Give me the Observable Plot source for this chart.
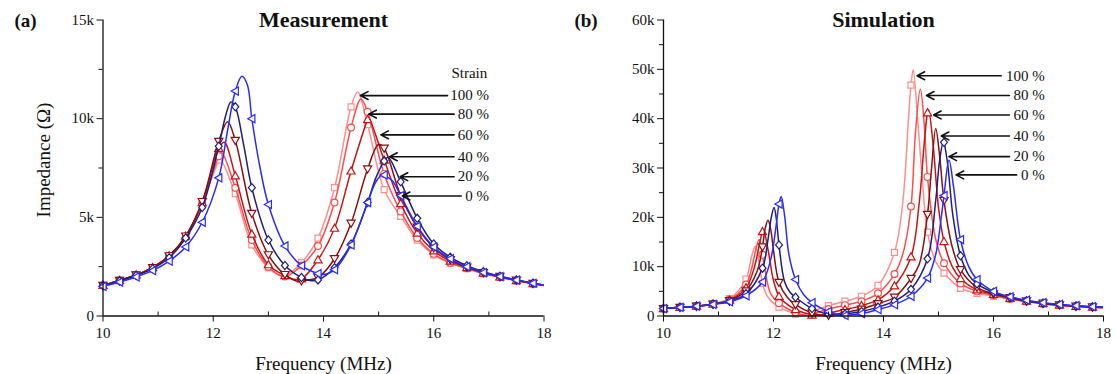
<!DOCTYPE html>
<html><head><meta charset="utf-8">
<script src="https://cdn.jsdelivr.net/npm/d3@7"></script>
<script src="https://cdn.jsdelivr.net/npm/@observablehq/plot@0.6"></script>
<style>
html,body{margin:0;padding:0;background:#fff;}
#fig{position:relative;width:1117px;height:374px;overflow:hidden;background:#fff;}
#fig svg{position:absolute;top:0;overflow:visible;font-family:'Liberation Serif','Times New Roman',serif !important;}
#fig svg text{font-family:'Liberation Serif','Times New Roman',serif !important;}
</style></head><body><div id="fig"></div>
<script>
// ---------- data (impedance in kΩ, frequency in MHz) ----------
const strains = ["100 %", "80 %", "60 %", "40 %", "20 %", "0 %"];
const seriesColors = ["#ff8f8f", "#ff4d4d", "#c81414", "#8a0f0f", "#1f1f7a", "#2b2bff"];
const markerFreq = [10, 10.3, 10.6, 10.9, 11.2, 11.5, 11.8, 12.1, 12.4, 12.7, 13.0, 13.3, 13.6, 13.9,
  14.2, 14.5, 14.8, 15.1, 15.4, 15.7, 16.0, 16.3, 16.6, 16.9, 17.2, 17.5, 17.8];
const xMajorTicks = [10, 12, 14, 16, 18];
const xMinorTicks = [11, 13, 15, 17];
const measYTicks = [0, 5, 10, 15];
const measYMinor = [2.5, 7.5, 12.5];
const simYTicks = [0, 10, 20, 30, 40, 50, 60];
const simYMinor = [5, 15, 25, 35, 45, 55];

// (a) Measurement: values at markerFreq, plus extra line points [f, z]
const meas100 = [1.55, 1.8, 2.08, 2.45, 3.05, 4.0, 5.75, 7.9, 6.2, 3.6, 2.45, 2.05, 2.7, 3.95, 6.5, 10.6, 9.7, 6.4, 5.05, 3.85, 3.1, 2.68, 2.4, 2.15, 1.96, 1.79, 1.63];
const meas100Extra = [[12.12, 8.0], [13.25, 2.02], [14.62, 11.35], [18.0, 1.55]];
const meas80 = [1.55, 1.8, 2.08, 2.45, 3.05, 4.0, 5.7, 8.1, 6.5, 3.85, 2.5, 2.0, 2.56, 3.55, 5.75, 9.55, 10.35, 7.2, 5.3, 3.95, 3.15, 2.7, 2.42, 2.17, 1.97, 1.8, 1.64];
const meas80Extra = [[12.15, 8.3], [14.68, 11.0], [18.0, 1.55]];
const meas60 = [1.55, 1.8, 2.08, 2.45, 3.05, 4.05, 5.75, 8.5, 7.1, 4.15, 2.6, 2.05, 1.88, 2.85, 4.45, 7.35, 9.95, 7.9, 5.7, 4.2, 3.3, 2.78, 2.45, 2.18, 1.98, 1.8, 1.64];
const meas60Extra = [[12.2, 8.8], [13.5, 1.85], [14.82, 10.05], [18.0, 1.55]];
const meas40 = [1.55, 1.8, 2.08, 2.45, 3.05, 4.05, 5.8, 8.85, 8.9, 5.2, 3.1, 2.1, 1.78, 1.95, 2.9, 4.7, 7.45, 8.5, 6.1, 4.5, 3.45, 2.85, 2.48, 2.2, 2.0, 1.82, 1.65];
const meas40Extra = [[12.26, 9.85], [13.55, 1.75], [15.0, 8.7], [18.0, 1.56]];
const meas20 = [1.55, 1.78, 2.05, 2.4, 2.95, 3.95, 5.5, 8.6, 10.6, 6.5, 3.85, 2.56, 1.95, 1.83, 2.45, 3.65, 5.75, 7.85, 6.8, 4.95, 3.65, 2.98, 2.55, 2.25, 2.02, 1.83, 1.66];
const meas20Extra = [[12.22, 10.1], [12.32, 10.85], [12.55, 8.7], [13.75, 1.8], [14.95, 7.0], [15.17, 8.05], [18.0, 1.57]];
const meas0 = [1.5, 1.72, 1.98, 2.3, 2.78, 3.5, 4.75, 7.0, 11.4, 10.0, 5.65, 3.55, 2.55, 2.15, 2.35, 3.6, 5.75, 7.15, 6.1, 4.55, 3.5, 2.9, 2.5, 2.2, 2.0, 1.82, 1.66];
const meas0Extra = [[12.26, 9.4], [12.52, 12.15], [12.62, 11.7], [12.85, 7.5], [14.0, 2.1], [14.95, 6.8], [15.08, 7.2], [15.25, 6.85], [18.0, 1.56]];

// (b) Simulation
const sim100 = [1.5, 1.75, 2.05, 2.5, 3.5, 7.5, 6.6, 1.8, 0.4, 0.9, 2.1, 3.0, 4.0, 6.2, 12.9, 46.8, 17.0, 8.7, 5.6, 4.6, 4.0, 3.4, 2.9, 2.45, 2.15, 1.93, 1.75];
const sim100Extra = [[11.6, 12.0], [11.67, 14.2], [11.73, 11.5], [11.9, 3.8], [12.48, 0.05], [14.35, 23.0], [14.46, 41.0], [14.54, 49.9], [14.62, 40.0], [14.7, 28.5], [14.95, 11.0], [18.0, 1.68]];
const sim80 = [1.5, 1.75, 2.0, 2.45, 3.3, 6.4, 12.4, 2.6, 0.7, 0.3, 1.4, 2.2, 3.0, 4.6, 8.5, 22.2, 28.2, 10.7, 6.6, 5.0, 4.2, 3.5, 2.95, 2.5, 2.18, 1.95, 1.78];
const sim80Extra = [[11.6, 9.5], [11.68, 13.6], [11.74, 15.5], [11.85, 9.0], [11.95, 4.5], [12.62, 0.05], [14.35, 12.5], [14.58, 37.0], [14.67, 46.0], [14.74, 39.0], [14.95, 15.5], [18.0, 1.7]];
const sim60 = [1.5, 1.75, 2.0, 2.4, 3.2, 5.7, 17.1, 4.0, 1.3, 0.2, 0.6, 1.3, 2.1, 3.3, 6.1, 12.0, 41.2, 15.1, 7.6, 5.3, 4.4, 3.6, 3.0, 2.55, 2.2, 1.97, 1.8];
const sim60Extra = [[11.65, 9.8], [11.75, 14.8], [11.82, 17.3], [11.9, 13.5], [12.0, 7.2], [12.2, 2.8], [12.75, 0.05], [14.65, 23.0], [14.74, 35.0], [14.82, 41.8], [14.9, 35.0], [15.0, 22.0], [15.25, 10.0], [18.0, 1.7]];
const sim40 = [1.5, 1.75, 2.0, 2.4, 3.1, 5.1, 14.0, 6.8, 2.3, 0.6, 0.15, 0.7, 1.4, 2.5, 3.8, 7.6, 20.6, 23.4, 9.4, 5.8, 4.5, 3.7, 3.05, 2.6, 2.25, 2.0, 1.82];
const sim40Extra = [[11.7, 9.0], [11.85, 17.8], [11.9, 19.4], [11.95, 17.5], [12.0, 13.3], [12.25, 3.8], [12.9, 0.05], [14.65, 10.5], [14.87, 29.5], [14.95, 38.0], [15.02, 32.5], [15.25, 14.0], [18.0, 1.72]];
const sim20 = [1.5, 1.75, 2.0, 2.4, 3.0, 4.5, 9.7, 14.4, 3.8, 1.5, 0.3, 0.4, 0.9, 1.8, 3.0, 5.4, 11.6, 35.2, 12.2, 6.5, 4.8, 3.8, 3.1, 2.6, 2.3, 2.05, 1.85];
const sim20Extra = [[11.9, 15.5], [11.96, 20.0], [12.01, 22.0], [12.05, 19.8], [12.2, 7.0], [12.3, 4.8], [13.1, 0.05], [14.95, 23.5], [15.02, 31.5], [15.09, 35.5], [15.17, 30.5], [15.26, 20.5], [15.55, 8.3], [18.0, 1.75]];
const sim0 = [1.5, 1.75, 2.0, 2.35, 2.9, 4.1, 6.9, 22.7, 7.4, 2.7, 0.9, 0.1, 0.5, 1.3, 2.3, 4.0, 7.7, 24.4, 15.5, 7.4, 5.0, 3.9, 3.2, 2.7, 2.35, 2.1, 1.9];
const sim0Extra = [[11.95, 11.5], [12.05, 18.5], [12.14, 24.2], [12.2, 20.5], [12.28, 12.5], [12.55, 4.3], [13.25, 0.05], [14.95, 12.5], [15.05, 20.0], [15.19, 31.6], [15.27, 26.5], [15.55, 10.0], [18.0, 1.8]];

// annotation arrows (order 100 % .. 0 %)
const measArrowTip = [14.67, 14.82, 15.04, 15.2, 15.39, 15.43];
const measArrowTail = [16.25, 16.37, 16.37, 16.37, 16.37, 16.5];
const measArrowY = [11.17, 10.23, 9.18, 8.07, 7.06, 6.08];
const measLabelX = 17.0;
const measStrainTitle = {text: "Strain", x: 16.97, y: 12.31};
const simArrowTip = [14.61, 14.78, 14.91, 15.05, 15.19, 15.32];
const simArrowTail = [16.14, 16.29, 16.29, 16.29, 16.29, 16.42];
const simArrowY = [48.7, 44.7, 40.75, 36.5, 32.3, 28.6];
const simLabelX = 16.93;

// ---------- symbols ----------
const rad = s => Math.sqrt(s / Math.PI);
const symUp = {draw(c, s) { const r = rad(s) * 1.2; c.moveTo(0, -r); c.lineTo(r, r * 0.75); c.lineTo(-r, r * 0.75); c.closePath(); }};
const symDown = {draw(c, s) { const r = rad(s) * 1.2; c.moveTo(0, r); c.lineTo(r, -r * 0.75); c.lineTo(-r, -r * 0.75); c.closePath(); }};
const symLeft = {draw(c, s) { const r = rad(s) * 1.2; c.moveTo(-r, 0); c.lineTo(r * 0.75, -r); c.lineTo(r * 0.75, r); c.closePath(); }};
const symDiamond = {draw(c, s) { const r = rad(s) * 1.2; c.moveTo(0, -r); c.lineTo(r * 0.85, 0); c.lineTo(0, r); c.lineTo(-r * 0.85, 0); c.closePath(); }};
const seriesSymbols = ["square", "circle", symUp, symDown, symDiamond, symLeft];

function buildRows(values, extra) {
  const pts = markerFreq.map((f, i) => ({f, z: values[i], m: true}));
  for (const [f, z] of extra) pts.push({f, z, m: false});
  pts.sort((a, b) => a.f - b.f);
  return pts;
}
const fmtK = d => d === 0 ? "0" : d + "k";
const FONT = "'Liberation Serif', 'Times New Roman', serif";

function makePanel(cfg) {
  const marks = [];
  cfg.series.forEach(([vals, extra], i) => {
    const rows = buildRows(vals, extra);
    marks.push(Plot.line(rows, {x: "f", y: "z", stroke: seriesColors[i], strokeWidth: 1.5, curve: "catmull-rom", clip: true}));
    marks.push(Plot.dot(rows.filter(d => d.m), {x: "f", y: "z", symbol: seriesSymbols[i], r: 3.4, stroke: seriesColors[i], strokeWidth: 1.2, fill: "white"}));
  });
  marks.push(
    Plot.ruleX([10], {stroke: "#111", strokeWidth: 1.3}),
    Plot.ruleY([0], {stroke: "#111", strokeWidth: 1.3}),
    Plot.axisX({ticks: xMajorTicks, tickSize: 6, tickPadding: 5, tickFormat: d => String(d), label: null, fontSize: 15, color: "#111"}),
    Plot.axisX({ticks: xMinorTicks, tickSize: -4, fill: "none", label: null, stroke: "#111"}),
    Plot.axisY({ticks: cfg.yTicks, tickSize: 6, tickPadding: 3, tickFormat: fmtK, label: null, fontSize: 15, color: "#111"}),
    Plot.axisY({ticks: cfg.yMinor, tickSize: 4, fill: "none", label: null, stroke: "#111"}),
    Plot.arrow(strains, {x1: (d, i) => cfg.tail[i], x2: (d, i) => cfg.tip[i], y1: (d, i) => cfg.annY[i], y2: (d, i) => cfg.annY[i], stroke: "#111", strokeWidth: 1.6, headLength: 8, headAngle: 55}),
    Plot.text(strains, {x: () => cfg.labelX, y: (d, i) => cfg.annY[i], text: d => d, textAnchor: "end", fontSize: 15, fill: "#111", fontFamily: FONT}),
    Plot.text([cfg.title], {text: d => d, frameAnchor: "top", lineAnchor: "middle", fontSize: 22, fontWeight: "bold", fill: "#111", fontFamily: FONT}),
    Plot.text([cfg.tag], {text: d => d, frameAnchor: "top-left", dx: -77.5, dy: 1, textAnchor: "middle", lineAnchor: "middle", fontSize: 19, fontWeight: "bold", fill: "#111", fontFamily: FONT}),
    Plot.text(["Frequency (MHz)"], {text: d => d, frameAnchor: "bottom", dy: 48, lineAnchor: "middle", fontSize: 19, fill: "#111", fontFamily: FONT})
  );
  if (cfg.yLabel) marks.push(Plot.text([cfg.yLabel], {text: d => d, frameAnchor: "left", dx: -59, dy: -8, rotate: -90, textAnchor: "middle", lineAnchor: "middle", fontSize: 19, fill: "#111", fontFamily: FONT}));
  if (cfg.strainTitle) marks.push(Plot.text([cfg.strainTitle], {x: d => d.x, y: d => d.y, text: d => d.text, textAnchor: "end", fontSize: 15, fill: "#111", fontFamily: FONT}));
  const svg = Plot.plot({
    width: cfg.width, height: 374,
    marginLeft: cfg.marginLeft, marginRight: cfg.marginRight, marginTop: 19.5, marginBottom: 58.5,
    x: {domain: [10, 18]},
    y: {domain: cfg.yDomain},
    style: {fontFamily: FONT, fontSize: "15px", background: "transparent", color: "#111"},
    marks
  });
  svg.style.left = cfg.left + "px";
  return svg;
}

const fig = document.getElementById("fig");
fig.appendChild(makePanel({
  left: 0, width: 558, marginLeft: 102.5, marginRight: 14.5,
  yDomain: [0, 15], yTicks: measYTicks, yMinor: measYMinor,
  series: [[meas100, meas100Extra], [meas80, meas80Extra], [meas60, meas60Extra], [meas40, meas40Extra], [meas20, meas20Extra], [meas0, meas0Extra]],
  tip: measArrowTip, tail: measArrowTail, annY: measArrowY, labelX: measLabelX,
  title: "Measurement", tag: "(a)", yLabel: "Impedance (Ω)", strainTitle: measStrainTitle
}));
fig.appendChild(makePanel({
  left: 558, width: 559, marginLeft: 105, marginRight: 14,
  yDomain: [0, 60], yTicks: simYTicks, yMinor: simYMinor,
  series: [[sim100, sim100Extra], [sim80, sim80Extra], [sim60, sim60Extra], [sim40, sim40Extra], [sim20, sim20Extra], [sim0, sim0Extra]],
  tip: simArrowTip, tail: simArrowTail, annY: simArrowY, labelX: simLabelX,
  title: "Simulation", tag: "(b)", yLabel: null, strainTitle: null
}));
</script></body></html>
